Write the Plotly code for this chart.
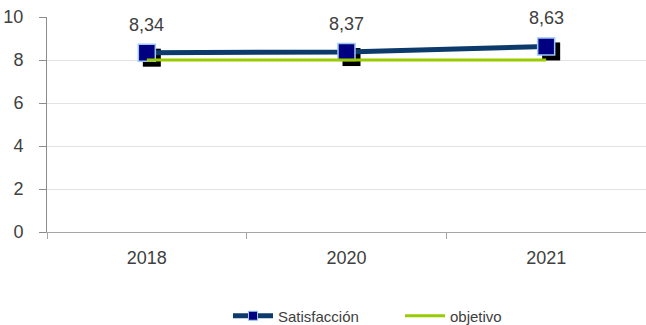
import plotly.graph_objects as go

# Survey results
years = ["2018", "2020", "2021"]
satisfaccion = [8.34, 8.37, 8.63]
objetivo = [8, 8, 8]
y_ticks = [0, 2, 4, 6, 8, 10]

FONT = "Liberation Sans, Arial, sans-serif"
TXT = "#404040"
NAVY_LINE = "#0c3a6a"
NAVY_FILL = "#000080"
BORDER = "#9cc8f5"
GREEN = "#99cc00"

W, H = 646, 325
M_L, M_R, M_T, M_B = 47, 0, 17, 93
plot_w = W - M_L - M_R
plot_h = H - M_T - M_B

# drop-shadow offset for the markers, in pixels
SH = 5
x_range = [-0.5, len(years) - 0.5]
y_range = [0, 10]
dx = SH * (x_range[1] - x_range[0]) / plot_w
dy = SH * (y_range[1] - y_range[0]) / plot_h

fig = go.Figure()

# shadow squares on a hidden, slightly shifted pair of axes
fig.add_trace(go.Scatter(
    x=years, y=satisfaccion, mode="markers", xaxis="x", yaxis="y",
    marker=dict(symbol="square", size=18, color="black"),
    showlegend=False, hoverinfo="skip",
))

# main series
fig.add_trace(go.Scatter(
    x=years, y=satisfaccion, mode="lines+markers", xaxis="x2", yaxis="y2",
    name="Satisfacción",
    line=dict(color=NAVY_LINE, width=5),
    marker=dict(symbol="square", size=17, color=NAVY_FILL,
                line=dict(color=BORDER, width=1.5)),
    showlegend=False,
))
fig.add_trace(go.Scatter(
    x=years, y=objetivo, mode="lines", xaxis="x2", yaxis="y2",
    name="objetivo", line=dict(color=GREEN, width=3),
    legendrank=2,
))
# legend entry for the main series (smaller marker)
fig.add_trace(go.Scatter(
    x=[None], y=[None], mode="lines+markers", xaxis="x2", yaxis="y2",
    name="Satisfacción",
    line=dict(color=NAVY_LINE, width=5),
    marker=dict(symbol="square", size=9, color=NAVY_FILL,
                line=dict(color=BORDER, width=1)),
    legendrank=1,
))

# value labels
for i, v in enumerate(satisfaccion):
    fig.add_annotation(
        x=i, y=v, xref="x2", yref="y2",
        text=f"{v:.2f}".replace(".", ","),
        showarrow=False, yshift=28,
        font=dict(family=FONT, size=18, color=TXT),
    )

fig.update_layout(
    width=W, height=H,
    margin=dict(l=M_L, r=M_R, t=M_T, b=M_B),
    paper_bgcolor="white", plot_bgcolor="white",
    font=dict(family=FONT, color=TXT),
    xaxis=dict(type="category", range=[x_range[0] - dx, x_range[1] - dx],
               visible=False, fixedrange=True),
    yaxis=dict(range=[y_range[0] + dy, y_range[1] + dy],
               visible=False, fixedrange=True),
    xaxis2=dict(
        type="category", range=x_range, overlaying="x", anchor="y2",
        showline=True, linecolor="#a6a6a6", linewidth=1,
        ticks="outside", tickson="boundaries", ticklen=6, tickcolor="#a6a6a6",
        showgrid=False, zeroline=False,
        tickfont=dict(family=FONT, size=18, color=TXT),
        ticklabelstandoff=9,
    ),
    yaxis2=dict(
        range=y_range, overlaying="y", anchor="x2",
        tickvals=y_ticks, ticktext=[str(t) for t in y_ticks],
        showline=True, linecolor="#8c8c8c", linewidth=1,
        ticks="outside", ticklen=7, tickcolor="#8c8c8c",
        showgrid=True, gridcolor="#e3e3e3", gridwidth=1,
        zeroline=False,
        tickfont=dict(family=FONT, size=18, color=TXT),
        ticklabelstandoff=12,
    ),
    legend=dict(
        orientation="h", xref="container", yref="container",
        x=228 / W, xanchor="left", y=1 - 316 / H, yanchor="middle",
        font=dict(family=FONT, size=15, color=TXT),
        itemwidth=40, entrywidth=117, entrywidthmode="pixels",
    ),
    showlegend=True,
)

fig.write_html("out.html")
